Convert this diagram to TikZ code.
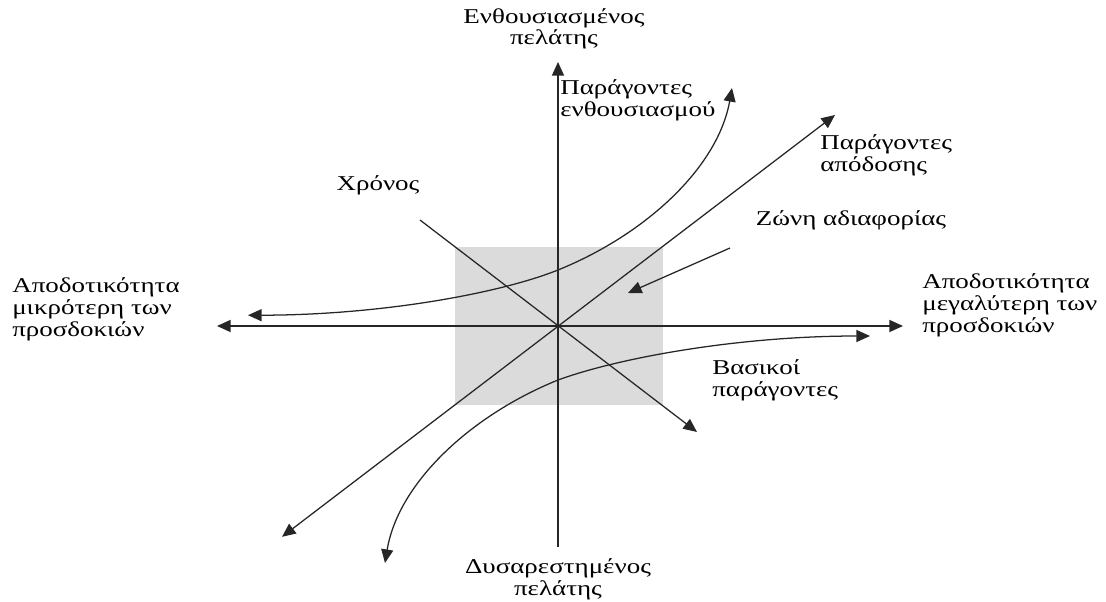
\documentclass[tikz,border=0pt]{standalone}
\usepackage{fontspec}
\setmainfont{Liberation Serif}[FakeStretch=1.28]
\usetikzlibrary{arrows.meta}

\begin{document}
\begin{tikzpicture}[>={Triangle[length=0.34cm,width=0.3cm]}, font=\fontsize{15}{15.6}\selectfont]
	\tikzset{line/.style={draw=black!85, line width=0.9pt}, lbl/.style={align=left, inner sep=0pt}}
	\useasboundingbox (-13.95,-6.875) rectangle (13.7,8.15);
	% zone of indifference
	\fill[black!14] (-2.575,-1.975) rectangle (2.625,1.975);
	% axes
	\coordinate (top) at (0,6.6);
	\coordinate (bottom) at (0,-5.525);
	\coordinate (left) at (-8.525,0);
	\coordinate (right) at (8.625,0);
	\draw[line,->] (bottom) -- (top);
	\draw[line,<->] (left) -- (right);
	% performance, time, zone
	\coordinate (p1) at (-6.9,-5.27);
	\coordinate (p2) at (6.925,5.275);
	\draw[line,<->] (p1) -- (p2);
	\coordinate (t1) at (-3.45,2.65);
	\coordinate (t2) at (3.475,-2.65);
	\draw[line,->] (t1) -- (t2);
	\coordinate (z1) at (4.3,1.95);
	\coordinate (z2) at (1.75,0.825);
	\draw[line,->] (z1) -- (z2);
	% attractive and basic curves
	\draw[line,<->] (-7.75,0.27) .. controls (-4.5,0.27) and (-1.5,0.8) .. (0,1.4) .. controls (2.22,2.3) and (4.0,3.98) .. (4.35,5.95);
	\draw[line,<->] (7.8,-0.25) .. controls (4.5,-0.25) and (1.5,-0.8) .. (0,-1.35) .. controls (-2.22,-2.25) and (-4.0,-3.95) .. (-4.325,-5.925);
	% labels
	\node[lbl, align=center] (delighted) at (-0.1,7.43) {Ενθουσιασμένος\\πελάτης};
	\node[lbl, align=center] (unhappy) at (0,-6.325) {Δυσαρεστημένος\\πελάτης};
	\node[lbl, anchor=west] (attract) at (0.05,5.65) {Παράγοντες\\ενθουσιασμού};
	\node[lbl, anchor=west] (perf) at (6.55,4.275) {Παράγοντες\\απόδοσης};
	\node[lbl] (time) at (-4.5,3.525) {Χρόνος};
	\node[lbl] (zone) at (7.325,2.65) {Ζώνη αδιαφορίας};
	\node[lbl, anchor=west] (better) at (9.1,0.525) {Αποδοτικότητα\\μεγαλύτερη των\\προσδοκιών};
	\node[lbl, anchor=west] (worse) at (-13.65,0.425) {Αποδοτικότητα\\μικρότερη των\\προσδοκιών};
	\node[lbl, anchor=west] (basic) at (3.85,-1.35) {Βασικοί\\παράγοντες};
\end{tikzpicture}
\end{document}
